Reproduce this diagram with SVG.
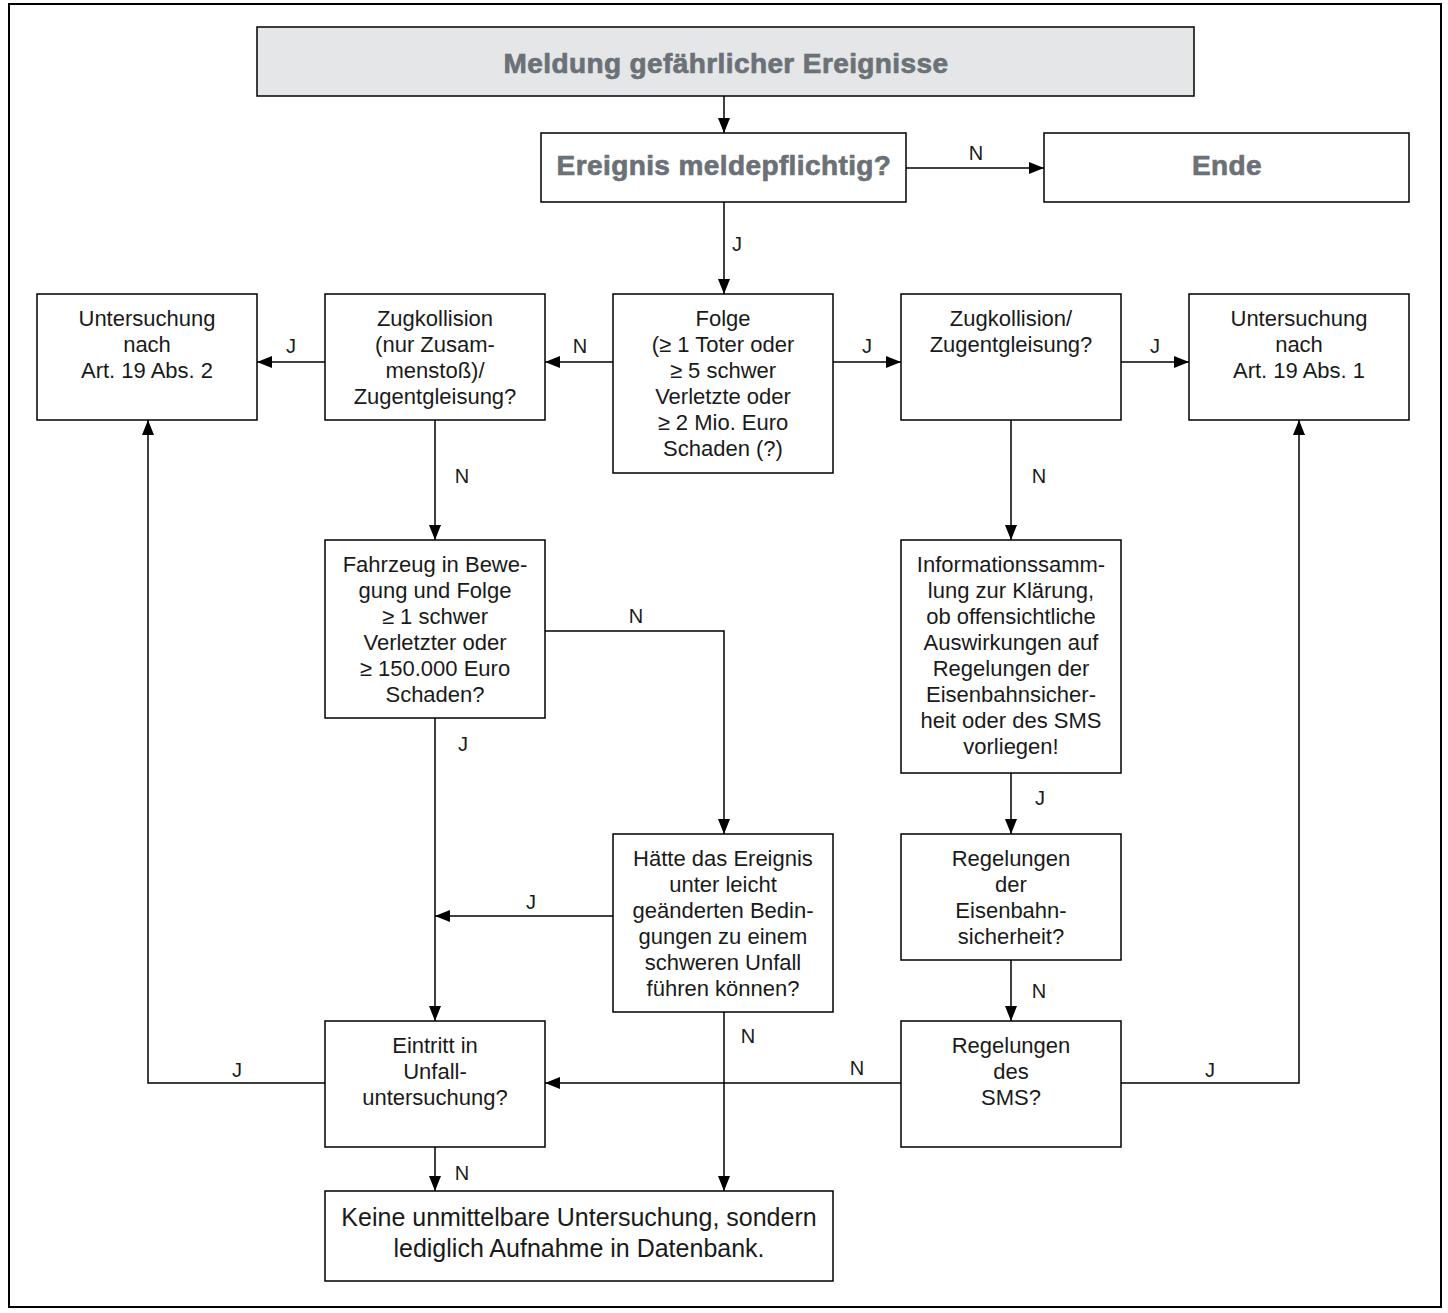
<svg xmlns="http://www.w3.org/2000/svg" width="1448" height="1313" viewBox="0 0 1448 1313">
<style>
.box{fill:#fff;stroke:#000;stroke-width:1.5}
.title{fill:#e4e6e8;stroke:#000;stroke-width:1.5}
.h{font-family:"Liberation Sans",Arial,sans-serif;font-weight:bold;font-size:28px;letter-spacing:0.4px;fill:#6b7176;stroke:#6b7176;stroke-width:0.7;text-anchor:middle}
.t{font-family:"Liberation Sans",Arial,sans-serif;font-size:22px;fill:#1a1a1a;text-anchor:middle}
.k{font-family:"Liberation Sans",Arial,sans-serif;font-size:25px;fill:#1a1a1a;text-anchor:middle}
.l{font-family:"Liberation Sans",Arial,sans-serif;font-size:20px;fill:#1a1a1a;text-anchor:middle}
.c{fill:none;stroke:#000;stroke-width:1.5}
</style>
<defs>
<marker id="a" markerUnits="userSpaceOnUse" markerWidth="15" markerHeight="14" viewBox="0 0 15 14" refX="15" refY="7" orient="auto">
<path d="M0,1 L15,7 L0,13 Z" fill="#000"/>
</marker>
</defs>
<rect x="9" y="4" width="1432" height="1303" fill="#fff" stroke="#000" stroke-width="2"/>
<g id="connectors">
<path class="c" d="M724,96 V133" marker-end="url(#a)"/>
<path class="c" d="M906,168 H1044" marker-end="url(#a)"/>
<text class="l" x="976" y="160">N</text>
<path class="c" d="M724,202 V294" marker-end="url(#a)"/>
<text class="l" x="737" y="251">J</text>
<path class="c" d="M613,362 H545" marker-end="url(#a)"/>
<text class="l" x="580" y="353">N</text>
<path class="c" d="M325,362 H257" marker-end="url(#a)"/>
<text class="l" x="291" y="353">J</text>
<path class="c" d="M833,362 H901" marker-end="url(#a)"/>
<text class="l" x="867" y="353">J</text>
<path class="c" d="M1121,362 H1189" marker-end="url(#a)"/>
<text class="l" x="1155" y="353">J</text>
<path class="c" d="M435,420 V540" marker-end="url(#a)"/>
<text class="l" x="462" y="483">N</text>
<path class="c" d="M1011,420 V540" marker-end="url(#a)"/>
<text class="l" x="1039" y="483">N</text>
<path class="c" d="M545,631 H724 V834" marker-end="url(#a)"/>
<text class="l" x="636" y="623">N</text>
<path class="c" d="M435,718 V1021" marker-end="url(#a)"/>
<text class="l" x="463" y="751">J</text>
<path class="c" d="M613,916 H435" marker-end="url(#a)"/>
<text class="l" x="531" y="909">J</text>
<path class="c" d="M1011,773 V834" marker-end="url(#a)"/>
<text class="l" x="1040" y="805">J</text>
<path class="c" d="M1011,960 V1021" marker-end="url(#a)"/>
<text class="l" x="1039" y="998">N</text>
<path class="c" d="M901,1083 H545" marker-end="url(#a)"/>
<text class="l" x="857" y="1075">N</text>
<path class="c" d="M1121,1083 H1299 V420" marker-end="url(#a)"/>
<text class="l" x="1210" y="1077">J</text>
<path class="c" d="M325,1083 H148 V420" marker-end="url(#a)"/>
<text class="l" x="237" y="1077">J</text>
<path class="c" d="M435,1147 V1191" marker-end="url(#a)"/>
<text class="l" x="462" y="1180">N</text>
<path class="c" d="M724,1012 V1191" marker-end="url(#a)"/>
<text class="l" x="748" y="1043">N</text>
</g>
<g id="n-title">
<rect class="title" x="257" y="27" width="937" height="69"/>
<text class="h" x="726" y="73">Meldung gefährlicher Ereignisse</text>
</g>
<g id="n-meldepflichtig">
<rect class="box" x="541" y="133" width="365" height="69"/>
<text class="h" x="724" y="175">Ereignis meldepflichtig?</text>
</g>
<g id="n-ende">
<rect class="box" x="1044" y="133" width="365" height="69"/>
<text class="h" x="1227" y="175">Ende</text>
</g>
<g id="n-abs2">
<rect class="box" x="37" y="294" width="220" height="126"/>
<text class="t" x="147" y="326">Untersuchung</text>
<text class="t" x="147" y="352">nach</text>
<text class="t" x="147" y="378">Art. 19 Abs. 2</text>
</g>
<g id="n-zug-links">
<rect class="box" x="325" y="294" width="220" height="126"/>
<text class="t" x="435" y="326">Zugkollision</text>
<text class="t" x="435" y="352">(nur Zusam-</text>
<text class="t" x="435" y="378">menstoß)/</text>
<text class="t" x="435" y="404">Zugentgleisung?</text>
</g>
<g id="n-folge">
<rect class="box" x="613" y="294" width="220" height="179"/>
<text class="t" x="723" y="326">Folge</text>
<text class="t" x="723" y="352">(≥ 1 Toter oder</text>
<text class="t" x="723" y="378">≥ 5 schwer</text>
<text class="t" x="723" y="404">Verletzte oder</text>
<text class="t" x="723" y="430">≥ 2 Mio. Euro</text>
<text class="t" x="723" y="456">Schaden (?)</text>
</g>
<g id="n-zug-rechts">
<rect class="box" x="901" y="294" width="220" height="126"/>
<text class="t" x="1011" y="326">Zugkollision/</text>
<text class="t" x="1011" y="352">Zugentgleisung?</text>
</g>
<g id="n-abs1">
<rect class="box" x="1189" y="294" width="220" height="126"/>
<text class="t" x="1299" y="326">Untersuchung</text>
<text class="t" x="1299" y="352">nach</text>
<text class="t" x="1299" y="378">Art. 19 Abs. 1</text>
</g>
<g id="n-fahrzeug">
<rect class="box" x="325" y="540" width="220" height="178"/>
<text class="t" x="435" y="572">Fahrzeug in Bewe-</text>
<text class="t" x="435" y="598">gung und Folge</text>
<text class="t" x="435" y="624">≥ 1 schwer</text>
<text class="t" x="435" y="650">Verletzter oder</text>
<text class="t" x="435" y="676">≥ 150.000 Euro</text>
<text class="t" x="435" y="702">Schaden?</text>
</g>
<g id="n-info">
<rect class="box" x="901" y="540" width="220" height="233"/>
<text class="t" x="1011" y="572">Informationssamm-</text>
<text class="t" x="1011" y="598">lung zur Klärung,</text>
<text class="t" x="1011" y="624">ob offensichtliche</text>
<text class="t" x="1011" y="650">Auswirkungen auf</text>
<text class="t" x="1011" y="676">Regelungen der</text>
<text class="t" x="1011" y="702">Eisenbahnsicher-</text>
<text class="t" x="1011" y="728">heit oder des SMS</text>
<text class="t" x="1011" y="754">vorliegen!</text>
</g>
<g id="n-haette">
<rect class="box" x="613" y="834" width="220" height="178"/>
<text class="t" x="723" y="866">Hätte das Ereignis</text>
<text class="t" x="723" y="892">unter leicht</text>
<text class="t" x="723" y="918">geänderten Bedin-</text>
<text class="t" x="723" y="944">gungen zu einem</text>
<text class="t" x="723" y="970">schweren Unfall</text>
<text class="t" x="723" y="996">führen können?</text>
</g>
<g id="n-eisenbahn">
<rect class="box" x="901" y="834" width="220" height="126"/>
<text class="t" x="1011" y="866">Regelungen</text>
<text class="t" x="1011" y="892">der</text>
<text class="t" x="1011" y="918">Eisenbahn-</text>
<text class="t" x="1011" y="944">sicherheit?</text>
</g>
<g id="n-eintritt">
<rect class="box" x="325" y="1021" width="220" height="126"/>
<text class="t" x="435" y="1053">Eintritt in</text>
<text class="t" x="435" y="1079">Unfall-</text>
<text class="t" x="435" y="1105">untersuchung?</text>
</g>
<g id="n-sms">
<rect class="box" x="901" y="1021" width="220" height="126"/>
<text class="t" x="1011" y="1053">Regelungen</text>
<text class="t" x="1011" y="1079">des</text>
<text class="t" x="1011" y="1105">SMS?</text>
</g>
<g id="n-keine">
<rect class="box" x="325" y="1191" width="508" height="90"/>
<text class="k" x="579" y="1226">Keine unmittelbare Untersuchung, sondern</text>
<text class="k" x="579" y="1257">lediglich Aufnahme in Datenbank.</text>
</g>
</svg>
